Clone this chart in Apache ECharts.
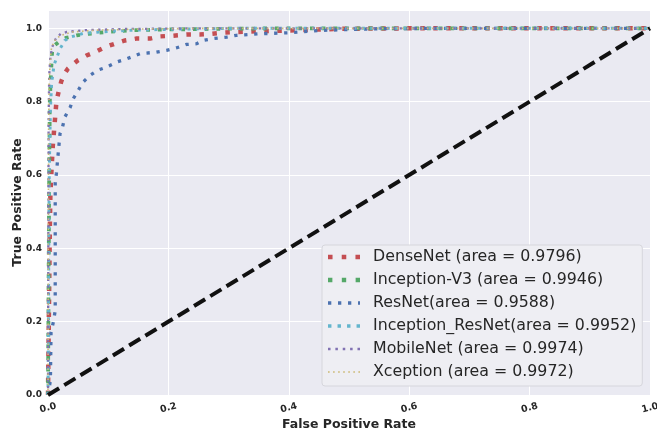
<!DOCTYPE html>
<html>
<head>
<meta charset="utf-8">
<script src="https://cdn.jsdelivr.net/npm/echarts@6/dist/echarts.min.js"></script>
<style>html,body{margin:0;padding:0;background:#fff;}#c{width:657px;height:431px;}</style>
</head>
<body>
<div id="c"></div>
<script>
// ---- data ----
const modelNames = ['DenseNet', 'Inception-V3', 'ResNet', 'Inception_ResNet', 'MobileNet', 'Xception'];
const legendLabels = ['DenseNet (area = 0.9796)', 'Inception-V3 (area = 0.9946)', 'ResNet(area = 0.9588)', 'Inception_ResNet(area = 0.9952)', 'MobileNet (area = 0.9974)', 'Xception (area = 0.9972)'];

const densenetFpr = [0, 0.001, 0.002, 0.003, 0.004, 0.006, 0.008, 0.010, 0.012, 0.014, 0.018, 0.022, 0.027, 0.033, 0.040, 0.050, 0.064, 0.078, 0.095, 0.111, 0.128, 0.147, 0.170, 0.186, 0.208, 0.230, 0.252, 0.272, 0.290, 0.313, 0.350, 0.400, 0.450, 0.500, 0.600, 0.800, 1.0];
const densenetTpr = [0, 0.15, 0.30, 0.45, 0.55, 0.62, 0.68, 0.72, 0.76, 0.80, 0.83, 0.855, 0.875, 0.89, 0.90, 0.913, 0.926, 0.935, 0.949, 0.958, 0.967, 0.972, 0.972, 0.978, 0.980, 0.983, 0.983, 0.985, 0.988, 0.990, 0.992, 0.994, 0.997, 0.999, 1.0, 1.0, 1.0];

const inceptionV3Fpr = [0, 0.001, 0.002, 0.003, 0.005, 0.007, 0.012, 0.018, 0.030, 0.048, 0.067, 0.097, 0.141, 0.200, 0.300, 0.400, 1.0];
const inceptionV3Tpr = [0, 0.30, 0.60, 0.80, 0.88, 0.94, 0.955, 0.963, 0.974, 0.981, 0.985, 0.990, 0.995, 0.997, 0.999, 1.0, 1.0];

const resnetFpr = [0, 0.004, 0.005, 0.009, 0.012, 0.012, 0.014, 0.017, 0.020, 0.024, 0.028, 0.037, 0.042, 0.050, 0.058, 0.070, 0.083, 0.097, 0.114, 0.131, 0.153, 0.180, 0.197, 0.214, 0.230, 0.247, 0.258, 0.274, 0.297, 0.313, 0.350, 0.400, 0.450, 0.500, 0.550, 0.650, 0.800, 1.0];
const resnetTpr = [0, 0.04, 0.17, 0.20, 0.23, 0.58, 0.605, 0.66, 0.713, 0.73, 0.758, 0.785, 0.808, 0.83, 0.853, 0.872, 0.886, 0.894, 0.908, 0.917, 0.931, 0.935, 0.94, 0.947, 0.956, 0.958, 0.967, 0.972, 0.976, 0.981, 0.985, 0.988, 0.994, 0.997, 0.999, 1.0, 1.0, 1.0];

const incResnetFpr = [0, 0.001, 0.002, 0.004, 0.006, 0.010, 0.015, 0.020, 0.028, 0.037, 0.058, 0.086, 0.140, 0.220, 0.320, 1.0];
const incResnetTpr = [0, 0.30, 0.60, 0.78, 0.85, 0.90, 0.922, 0.944, 0.967, 0.976, 0.986, 0.990, 0.995, 0.998, 1.0, 1.0];

const mobilenetFpr = [0, 0.0005, 0.001, 0.002, 0.004, 0.007, 0.013, 0.021, 0.031, 0.060, 0.120, 0.250, 1.0];
const mobilenetTpr = [0, 0.40, 0.75, 0.872, 0.922, 0.949, 0.972, 0.985, 0.990, 0.995, 0.998, 1.0, 1.0];

const xceptionFpr = [0, 0.0005, 0.001, 0.002, 0.005, 0.010, 0.020, 0.040, 0.080, 0.150, 0.250, 1.0];
const xceptionTpr = [0, 0.40, 0.72, 0.86, 0.94, 0.965, 0.980, 0.990, 0.995, 0.998, 1.0, 1.0];

const chanceFpr = [0, 1];
const chanceTpr = [0, 1];

const xTicks = [0, 0.2, 0.4, 0.6, 0.8, 1.0];
const yTicks = [0, 0.2, 0.4, 0.6, 0.8, 1.0];

// ---- styles ----
const colors = ['#C44E52', '#55A868', '#4C72B0', '#64B5CD', '#8172B2', '#CCB974'];
const widths = [4.5, 3.8, 3.3, 3.0, 2.3, 1.6];
const dashes = [[4.5, 8.5], [3.8, 7.9], [3.3, 6.7], [3.0, 5.3], [2.3, 4.4], [1.6, 3.4]];

function dotIcon(size, period, total) {
  let p = '';
  for (let x = 0; x < total - 0.01; x += period) {
    const w = Math.min(size, total - x);
    p += 'M' + x.toFixed(2) + ' 0h' + w.toFixed(2) + 'v' + size + 'h-' + w.toFixed(2) + 'Z';
  }
  return 'path://' + p;
}
const icons = [
  dotIcon(4.3, 13, 31),
  dotIcon(3.7, 11.7, 28),
  dotIcon(3.3, 10, 32),
  dotIcon(3.0, 8.3, 28),
  dotIcon(2.3, 6.7, 29.2),
  dotIcon(1.6, 5, 31.6)
];

const xs = [densenetFpr, inceptionV3Fpr, resnetFpr, incResnetFpr, mobilenetFpr, xceptionFpr];
const ys = [densenetTpr, inceptionV3Tpr, resnetTpr, incResnetTpr, mobilenetTpr, xceptionTpr];

const series = legendLabels.map((lab, i) => ({
  name: lab,
  type: 'line',
  data: xs[i].map((x, k) => [x, ys[i][k]]),
  showSymbol: false,
  symbol: 'none',
  color: colors[i],
  itemStyle: { color: colors[i], borderWidth: 0 },
  lineStyle: { color: colors[i], width: widths[i], type: dashes[i], cap: 'butt', join: 'miter' },
  emphasis: { disabled: true },
  animation: false,
  z: 2
}));
series.push({
  name: 'chance',
  type: 'line',
  data: chanceFpr.map((x, k) => [x, chanceTpr[k]]),
  showSymbol: false,
  symbol: 'none',
  lineStyle: { color: '#111111', width: 4, type: [13, 6], cap: 'butt' },
  emphasis: { disabled: true },
  animation: false,
  z: 3
});

const chart = echarts.init(document.getElementById('c'), null, { renderer: 'canvas' });
chart.setOption({
  animation: false,
  backgroundColor: '#ffffff',
  grid: {
    left: 48, right: 7, top: 10, bottom: 36,
    show: true, backgroundColor: '#EAEAF2', borderWidth: 0,
    containLabel: false, outerBoundsMode: 'none'
  },
  xAxis: {
    type: 'value', min: 0, max: 1, interval: 0.2,
    name: 'False Positive Rate', nameLocation: 'middle', nameGap: 23, nameMoveOverlap: false,
    nameTextStyle: { fontFamily: 'DejaVu Sans', fontWeight: 'bold', fontSize: 12.5, color: '#262626' },
    axisLine: { show: false }, axisTick: { show: false },
    splitLine: { show: true, lineStyle: { color: '#ffffff', width: 1 } },
    axisLabel: {
      rotate: 15, align: 'center', verticalAlign: 'middle', margin: 13,
      fontFamily: 'DejaVu Sans', fontWeight: 'bold', fontSize: 9.5, color: '#262626',
      formatter: v => xTicks.some(t => Math.abs(t - v) < 1e-9) ? v.toFixed(1) : ''
    }
  },
  yAxis: {
    type: 'value', min: 0, max: 1.05, interval: 0.2,
    name: 'True Positive Rate', nameLocation: 'middle', nameGap: 24, nameMoveOverlap: false,
    nameTextStyle: { fontFamily: 'DejaVu Sans', fontWeight: 'bold', fontSize: 12.5, color: '#262626' },
    axisLine: { show: false }, axisTick: { show: false },
    splitLine: { show: true, lineStyle: { color: '#ffffff', width: 1 } },
    axisLabel: {
      margin: 6, showMaxLabel: false,
      fontFamily: 'DejaVu Sans', fontWeight: 'bold', fontSize: 9, color: '#262626',
      formatter: v => yTicks.some(t => Math.abs(t - v) < 1e-9) ? v.toFixed(1) : ''
    }
  },
  legend: {
    orient: 'vertical', left: 322, top: 245, align: 'left',
    data: legendLabels.map((lab, i) => ({ name: lab, icon: icons[i] })),
    itemWidth: 32, itemHeight: 14, itemGap: 5,
    symbolKeepAspect: true,
    itemStyle: { borderWidth: 0 },
    padding: [3, 6, 5, 6],
    backgroundColor: '#EEEEF3', borderColor: '#D6D6DC', borderWidth: 1, borderRadius: 3,
    selectedMode: false,
    textStyle: { fontFamily: 'DejaVu Sans', fontSize: 15.8, color: '#262626', lineHeight: 18, padding: [0, 0, 0, 8] }
  },
  series: series
});
</script>
</body>
</html>
